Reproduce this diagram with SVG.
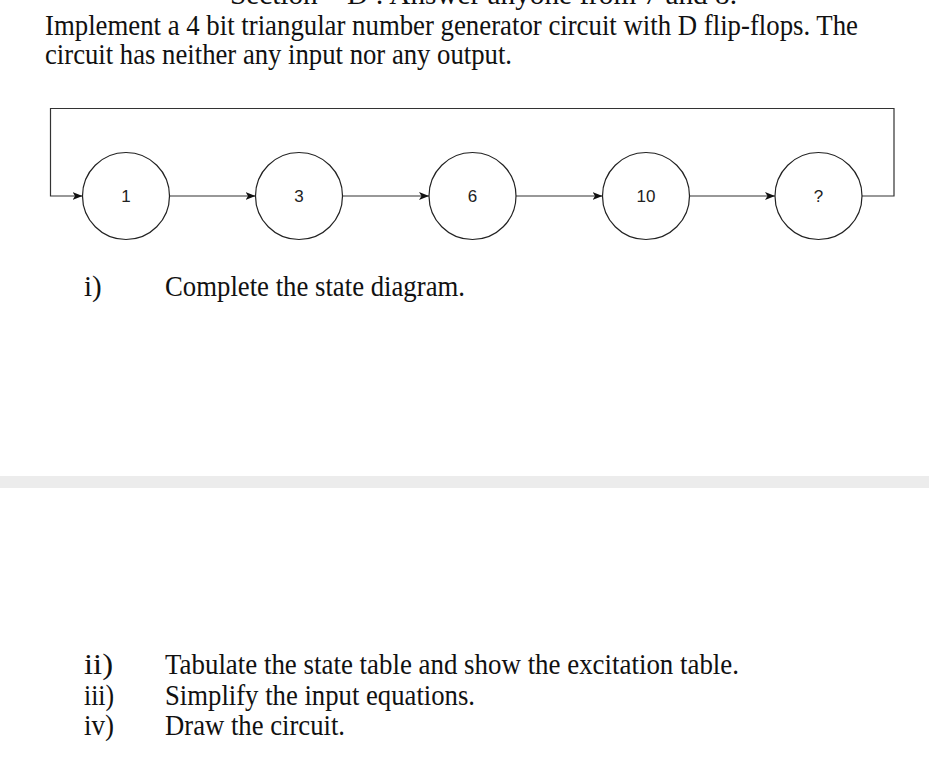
<svg xmlns="http://www.w3.org/2000/svg" width="929" height="760" viewBox="0 0 929 760">
<style>
.t{font-family:"Liberation Serif","Times New Roman",serif;font-size:29px;fill:#111}
.n{font-family:"Liberation Sans",Arial,sans-serif;font-size:17px;fill:#222;text-anchor:middle}
.c{fill:#fff;stroke:#222;stroke-width:1.2}
.e{fill:none;stroke:#333;stroke-width:1.2}
</style>
<defs>
<marker id="ah" viewBox="0 0 10 8" refX="10" refY="4" markerWidth="10" markerHeight="8" markerUnits="userSpaceOnUse" orient="auto">
<path d="M0,0 L10,4 L0,8 L2.5,4 z" fill="#111"/>
</marker>
</defs>
<rect width="929" height="760" fill="#fff"/>
<text class="t" x="230" y="4" textLength="507" lengthAdjust="spacingAndGlyphs">Section – D : Answer anyone from 7 and 8.</text>
<text class="t" x="45" y="35" textLength="813" lengthAdjust="spacingAndGlyphs">Implement a 4 bit triangular number generator circuit with D flip-flops. The</text>
<text class="t" x="45" y="64" textLength="467" lengthAdjust="spacingAndGlyphs">circuit has neither any input nor any output.</text>
<g id="connectors">
<path class="e" d="M862,196 H894 V108.5 H50.5 V196 H82.5" marker-end="url(#ah)"/>
<path class="e" d="M169.5,196 H255.5" marker-end="url(#ah)"/>
<path class="e" d="M342.5,196 H429" marker-end="url(#ah)"/>
<path class="e" d="M516,196 H602.5" marker-end="url(#ah)"/>
<path class="e" d="M689.5,196 H775" marker-end="url(#ah)"/>
</g>
<g id="n1"><circle class="c" cx="126" cy="196" r="43.5"/><text class="n" x="126" y="202">1</text></g>
<g id="n3"><circle class="c" cx="299" cy="196" r="43.5"/><text class="n" x="299" y="202">3</text></g>
<g id="n6"><circle class="c" cx="472.5" cy="196" r="43.5"/><text class="n" x="472.5" y="202">6</text></g>
<g id="n10"><circle class="c" cx="646" cy="196" r="43.5"/><text class="n" x="646" y="202">10</text></g>
<g id="nq"><circle class="c" cx="818.5" cy="196" r="43.5"/><text class="n" x="818.5" y="202">?</text></g>
<text class="t" x="84" y="296">i)</text>
<text class="t" x="165" y="296" textLength="300" lengthAdjust="spacingAndGlyphs">Complete the state diagram.</text>
<rect x="0" y="476" width="929" height="12" fill="#ececec"/>
<text class="t" x="84" y="674" textLength="29" lengthAdjust="spacingAndGlyphs">ii)</text>
<text class="t" x="165" y="674" textLength="574" lengthAdjust="spacingAndGlyphs">Tabulate the state table and show the excitation table.</text>
<text class="t" x="84" y="705" textLength="30" lengthAdjust="spacingAndGlyphs">iii)</text>
<text class="t" x="165" y="705" textLength="310" lengthAdjust="spacingAndGlyphs">Simplify the input equations.</text>
<text class="t" x="84" y="735" textLength="30" lengthAdjust="spacingAndGlyphs">iv)</text>
<text class="t" x="165" y="735" textLength="180" lengthAdjust="spacingAndGlyphs">Draw the circuit.</text>
</svg>
